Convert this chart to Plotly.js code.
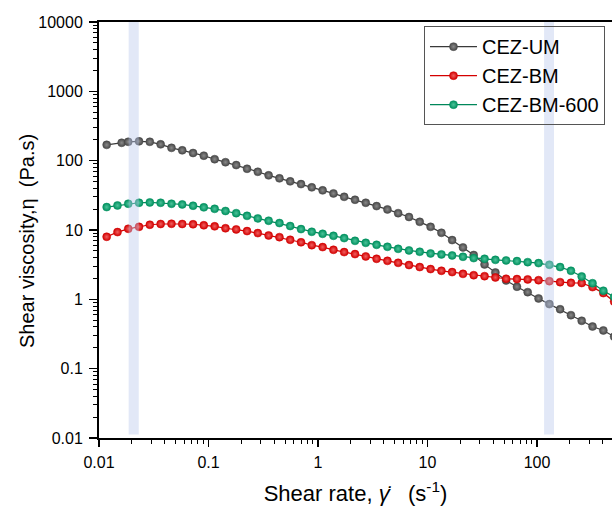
<!DOCTYPE html>
<html>
<head>
<meta charset="utf-8">
<script src="https://cdn.plot.ly/plotly-3.0.1.min.js"></script>
<style>html,body{margin:0;padding:0;background:#fff;}#chart{width:612px;height:506px;}</style>
</head>
<body>
<div id="chart"></div>
<script>
// Shear rate (s^-1) for CEZ-BM and CEZ-BM-600
const shearRate = [0.01175, 0.01475, 0.01849, 0.02321, 0.02911, 0.03655, 0.04591, 0.05754, 0.07228, 0.09057,
  0.1138, 0.1429, 0.1791, 0.2249, 0.2818, 0.3540, 0.4446, 0.5572, 0.6998, 0.8770,
  1.102, 1.384, 1.734, 2.178, 2.729, 3.428, 4.305, 5.395, 6.776, 8.492,
  10.67, 13.40, 16.79, 21.09, 26.42, 33.19, 41.69, 52.24, 65.62, 82.22,
  103.3, 129.7, 162.6, 204.2, 255.9, 321.4, 403.6, 506.0];
// Shear rate for CEZ-UM
const shearRateUM = [0.01175, 0.0161, 0.01849, 0.02321, 0.02911, 0.03655, 0.04591, 0.05754, 0.07228, 0.09057,
  0.1138, 0.1429, 0.1791, 0.2249, 0.2818, 0.3540, 0.4446, 0.5572, 0.6998, 0.8770,
  1.102, 1.384, 1.734, 2.178, 2.729, 3.428, 4.305, 5.395, 6.776, 8.492,
  10.67, 13.40, 16.79, 21.09, 26.42, 33.19, 41.69, 52.24, 65.62, 82.22,
  103.3, 129.7, 162.6, 204.2, 255.9, 321.4, 403.6, 506.0];
const viscUM = [169, 181, 187, 190, 187, 172, 153, 141, 129, 118,
  105, 95, 86.4, 76.4, 69.2, 61.4, 55.6, 50.3, 45.9, 41.2,
  37.3, 33.7, 30.1, 27.3, 24.7, 22.1, 19.8, 17.5, 15.4, 13.1,
  11.1, 9.11, 7.15, 5.61, 4.36, 3.19, 2.44, 1.87, 1.52, 1.27,
  1.03, 0.853, 0.72, 0.591, 0.49, 0.406, 0.356, 0.29];
const viscBM = [7.98, 9.33, 10.4, 11.1, 11.9, 12.2, 12.3, 12.2, 12.1, 11.7,
  11.3, 10.6, 10.2, 9.64, 9.02, 8.35, 7.89, 7.22, 6.65, 6.05,
  5.67, 5.18, 4.80, 4.49, 4.16, 3.84, 3.59, 3.36, 3.12, 2.92,
  2.73, 2.58, 2.47, 2.33, 2.23, 2.16, 2.07, 1.98, 1.96, 1.94,
  1.89, 1.83, 1.77, 1.73, 1.72, 1.50, 1.23, 0.93];
const viscBM600 = [21.4, 22.6, 23.9, 24.7, 25.0, 24.7, 23.9, 23.4, 22.4, 21.2,
  20.2, 18.8, 17.5, 16.0, 14.7, 13.6, 12.6, 11.4, 10.3, 9.42,
  8.81, 8.24, 7.64, 6.98, 6.53, 6.11, 5.72, 5.35, 5.08, 4.85,
  4.59, 4.45, 4.30, 4.11, 3.93, 3.84, 3.71, 3.64, 3.56, 3.44,
  3.33, 3.15, 2.92, 2.58, 2.14, 1.71, 1.33, 1.08];
const seriesNames = ['CEZ-UM', 'CEZ-BM', 'CEZ-BM-600'];
const bands = [[0.01866, 0.02307], [116, 143]];
const xTitle = 'Shear rate, <i>γ̇</i>&nbsp;&nbsp;&nbsp;(s<sup>-1</sup>)';
const yTitle = 'Shear viscosity,η&nbsp;&nbsp;(Pa.s)';

const FONT = '"Liberation Sans", Arial, sans-serif';
function mk(x, y, name, lineColor, markColor, centerColor) {
  return {
    x: x, y: y, name: name, type: 'scatter', mode: 'lines+markers',
    line: {color: lineColor, width: 1.2},
    marker: {size: 8, color: markColor, line: {color: markColor, width: 0.5},
             gradient: {type: 'radial', color: centerColor}}
  };
}
const data = [
  mk(shearRateUM, viscUM, seriesNames[0], '#3a3a3a', '#484848', '#8a8a8a'),
  mk(shearRate, viscBM, seriesNames[1], '#d40000', '#d20000', '#f06060'),
  mk(shearRate, viscBM600, seriesNames[2], '#00875a', '#00905e', '#4cc39a')
];
const shapes = bands.map(b => ({
  type: 'rect', xref: 'x', yref: 'y', x0: b[0], x1: b[1], y0: 0.0112, y1: 10000,
  fillcolor: 'rgb(185,200,235)', opacity: 0.42, line: {width: 0}, layer: 'above'
}));
const axisCommon = {
  type: 'log', showgrid: false, zeroline: false,
  showline: true, linecolor: '#000', linewidth: 2,
  ticks: 'outside', tickwidth: 1.5, tickcolor: '#000',
  tickmode: 'linear', tick0: 0, dtick: 1, exponentformat: 'none',
  tickfont: {family: FONT, size: 16, color: '#000'},
  minor: {ticks: 'outside', dtick: 'D1', ticklen: 4, tickwidth: 1, tickcolor: '#000', showgrid: false}
};
const layout = {
  width: 612, height: 506,
  margin: {l: 99, r: 0, t: 22, b: 68, pad: 0},
  paper_bgcolor: '#fff', plot_bgcolor: '#fff',
  separators: '.',
  font: {family: FONT, size: 16, color: '#000'},
  showlegend: true,
  legend: {x: 0.6335, y: 0.99, xanchor: 'left', yanchor: 'top', itemwidth: 47,
           bgcolor: 'rgba(0,0,0,0)', bordercolor: '#555', borderwidth: 1,
           font: {family: FONT, size: 20, color: '#000'}},
  xaxis: Object.assign({}, axisCommon, {
    range: [-2, 2.685], mirror: true, ticklen: 7, ticklabelstandoff: 2,
    title: {text: xTitle, font: {family: FONT, size: 22, color: '#000'}, standoff: 17}
  }),
  yaxis: Object.assign({}, axisCommon, {
    range: [-2, 4], mirror: false, ticklen: 8, ticklabelstandoff: 3
  }),
  annotations: [{
    text: yTitle, xref: 'paper', yref: 'paper', x: 0, y: 0.512,
    xanchor: 'center', yanchor: 'middle', xshift: -72, yshift: -16, textangle: -90, showarrow: false,
    font: {family: FONT, size: 20, color: '#000'}
  }],
  shapes: shapes
};
Plotly.newPlot('chart', data, layout, {displayModeBar: false, staticPlot: true});
</script>
</body>
</html>
